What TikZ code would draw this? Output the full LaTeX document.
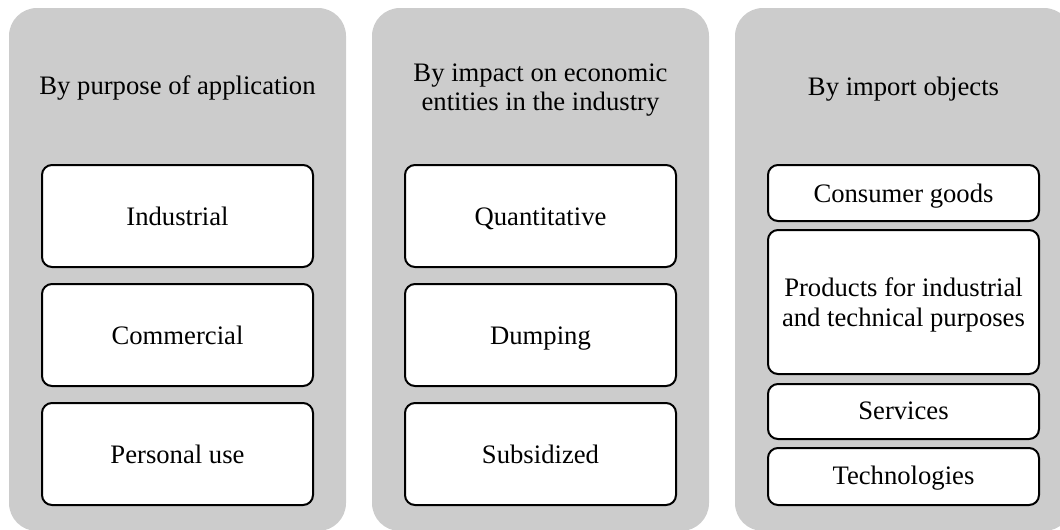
\documentclass[tikz,border=0pt]{standalone}
\usepackage{fontspec}
\setmainfont{Liberation Serif}

\tikzset{
  panel/.style={fill=black!20, rounded corners=21pt, minimum width=252.75pt, minimum height=392.25pt, inner sep=0pt},
  heading/.style={align=center, font=\fontsize{20}{22}\selectfont},
  item/.style={draw, line width=1.5pt, fill=white, rounded corners=7.5pt, minimum width=203.25pt, inner sep=0pt, align=center, font=\fontsize{20}{22}\selectfont},
  oneline/.style={text height=16pt, text depth=2.5pt}
}

\begin{document}
\begin{tikzpicture}[x=0.75pt, y=-0.75pt]

\clip (0,0) rectangle (1060,529);

\foreach \n/\x in {purpose/177.5, impact/540.5, objects/903.5}
	\node[panel] (\n) at (\x,269.5) {};

\node[heading, oneline] (purposetitle) at (177.5,85) {By purpose of application};
\node[heading] (impacttitle) at (540.5,90) {By impact on economic\\entities in the industry};
\node[heading, oneline] (objectstitle) at (903.5,86) {By import objects};

\foreach \n/\x/\t in {industrial/177.5/Industrial, quantitative/540.5/Quantitative}
	\node[item, oneline, minimum height=76.5pt] (\n) at (\x,216) {\t};
\foreach \n/\x/\t in {commercial/177.5/Commercial, dumping/540.5/Dumping}
	\node[item, oneline, minimum height=76.5pt] (\n) at (\x,335) {\t};
\foreach \n/\x/\t in {personal/177.5/Personal use, subsidized/540.5/Subsidized}
	\node[item, oneline, minimum height=76.5pt] (\n) at (\x,454) {\t};

\node[item, oneline, minimum height=42pt] (consumer) at (903.5,193) {Consumer goods};
\node[item, minimum height=108pt, text depth=0pt] (products) at (903.5,302) {Products for industrial\\and technical purposes};
\node[item, minimum height=41.25pt, text height=16pt, text depth=4pt] (services) at (903.5,411.5) {Services};
\node[item, minimum height=42.75pt, text height=16pt, text depth=4pt] (technologies) at (903.5,476.5) {Technologies};

\end{tikzpicture}
\end{document}
